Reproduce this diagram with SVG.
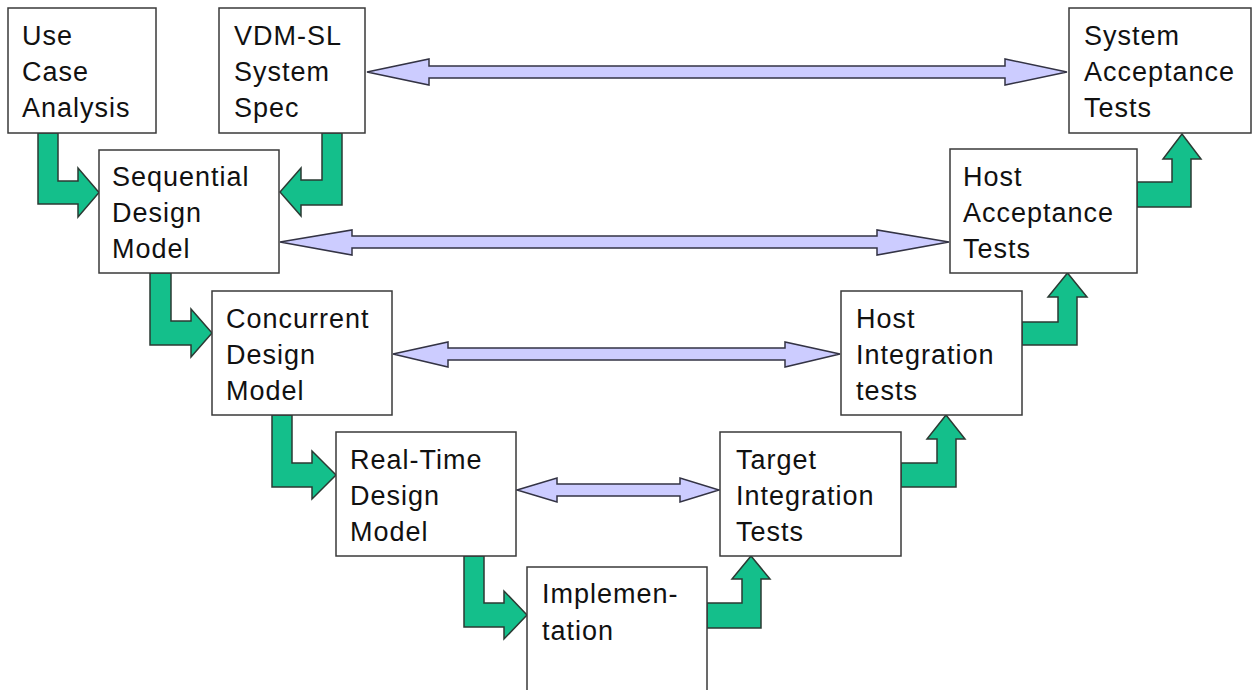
<svg xmlns="http://www.w3.org/2000/svg" width="1253" height="690" viewBox="0 0 1253 690">
<style>
.box{fill:#fff;stroke:#3a3a3a;stroke-width:1.5}
.lbl{font-family:"Liberation Sans",Arial,sans-serif;font-size:27px;letter-spacing:1px;fill:#111}
.g{fill:#14BF8B;stroke:#2b3a33;stroke-width:1.5;stroke-linejoin:miter}
.d{fill:#CCCCFF;stroke:#333344;stroke-width:1.5}
</style>
<rect width="1253" height="690" fill="#fff"/>
<g id="connectors">
<path class="g" d="M38,133 H58 V181 H78 V168 L99,192.5 L78,217 V204 H38 Z"/>
<path class="g" d="M322,133 H342 V205 H301 V216 L280,192 L301,168 V180 H322 Z"/>
<path class="g" d="M150,273 H171 V321 H191 V309 L212,333 L191,357 V345 H150 Z"/>
<path class="g" d="M272,415 H292 V463 H312 V451 L336,475 L312,499 V487 H272 Z"/>
<path class="g" d="M464,556 H484 V603 H504 V591 L527,615 L504,639 V627 H464 Z"/>
<path class="g" d="M707,603 H742 V579 H732 L751,556 L770,579 H761 V628 H707 Z"/>
<path class="g" d="M901,463 H937 V439 H927 L946,415 L965,439 H956 V487 H901 Z"/>
<path class="g" d="M1022,322 H1058 V297 H1048 L1067.5,273 L1087,297 H1077 V345 H1022 Z"/>
<path class="g" d="M1137,182 H1172 V159 H1163 L1182,134 L1201,159 H1191 V207 H1137 Z"/>
<path class="d" d="M367,72 L429,59 V66 H1005 V59 L1067,72 L1005,85 V78 H429 V85 Z"/>
<path class="d" d="M280,242 L352,230 V236 H877 V230 L949,242 L877,255 V248 H352 V255 Z"/>
<path class="d" d="M393,354 L448,342 V348 H785 V342 L840,354 L785,367 V360 H448 V367 Z"/>
<path class="d" d="M517,490 L557,478 V484 H680 V478 L719,490 L680,502 V496 H557 V502 Z"/>
</g>
<g id="use-case">
<rect class="box" x="8" y="8" width="148" height="125"/>
<text class="lbl" x="22"><tspan x="22" y="45">Use</tspan><tspan x="22" y="81">Case</tspan><tspan x="22" y="117">Analysis</tspan></text>
</g>
<g id="vdm-sl">
<rect class="box" x="219" y="8" width="146" height="125"/>
<text class="lbl"><tspan x="234" y="45">VDM-SL</tspan><tspan x="234" y="81">System</tspan><tspan x="234" y="117">Spec</tspan></text>
</g>
<g id="system-acceptance">
<rect class="box" x="1069" y="8" width="182" height="125"/>
<text class="lbl"><tspan x="1084" y="45">System</tspan><tspan x="1084" y="81">Acceptance</tspan><tspan x="1084" y="117">Tests</tspan></text>
</g>
<g id="sequential">
<rect class="box" x="99" y="150" width="180" height="123"/>
<text class="lbl"><tspan x="112" y="186">Sequential</tspan><tspan x="112" y="222">Design</tspan><tspan x="112" y="258">Model</tspan></text>
</g>
<g id="host-acceptance">
<rect class="box" x="950" y="149" width="187" height="124"/>
<text class="lbl"><tspan x="963" y="186">Host</tspan><tspan x="963" y="222">Acceptance</tspan><tspan x="963" y="258">Tests</tspan></text>
</g>
<g id="concurrent">
<rect class="box" x="212" y="291" width="180" height="124"/>
<text class="lbl"><tspan x="226" y="328">Concurrent</tspan><tspan x="226" y="364">Design</tspan><tspan x="226" y="400">Model</tspan></text>
</g>
<g id="host-integration">
<rect class="box" x="841" y="291" width="181" height="124"/>
<text class="lbl"><tspan x="856" y="328">Host</tspan><tspan x="856" y="364">Integration</tspan><tspan x="856" y="400">tests</tspan></text>
</g>
<g id="real-time">
<rect class="box" x="336" y="432" width="180" height="124"/>
<text class="lbl"><tspan x="350" y="469">Real-Time</tspan><tspan x="350" y="505">Design</tspan><tspan x="350" y="541">Model</tspan></text>
</g>
<g id="target-integration">
<rect class="box" x="720" y="432" width="181" height="124"/>
<text class="lbl"><tspan x="736" y="469">Target</tspan><tspan x="736" y="505">Integration</tspan><tspan x="736" y="541">Tests</tspan></text>
</g>
<g id="implementation">
<rect class="box" x="527" y="567" width="180" height="130"/>
<text class="lbl"><tspan x="542" y="603">Implemen-</tspan><tspan x="542" y="640">tation</tspan></text>
</g>
</svg>
